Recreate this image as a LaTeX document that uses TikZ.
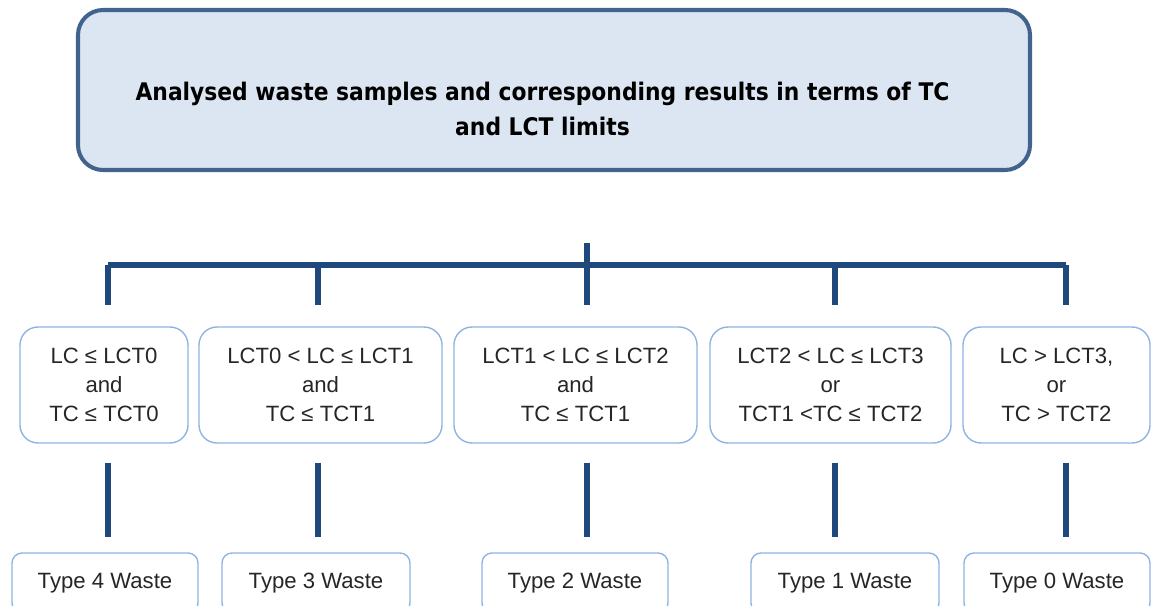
\documentclass[tikz,border=0pt]{standalone}
\usepackage{fontspec}
\setmainfont{Liberation Sans}
\newfontfamily\headfont[FakeStretch=0.9]{DejaVu Sans}
\usetikzlibrary{positioning}

\definecolor{headfill}{HTML}{DCE6F2}
\definecolor{headline}{HTML}{43638F}
\definecolor{treeline}{HTML}{1F497D}
\definecolor{boxline}{HTML}{8EB4E3}

\tikzset{
  headbox/.style={draw=headline, fill=headfill, line width=2.3pt, rounded corners=0.5cm,
    minimum width=19.04cm, minimum height=3.2cm},
  cond/.style={draw=boxline, line width=0.8pt, rounded corners=0.36cm, align=center,
    minimum height=2.32cm, inner sep=0pt, font=\fontsize{12.6}{16.4}\selectfont, text=black!85},
  waste/.style={draw=boxline, line width=0.8pt, rounded corners=0.2cm,
    minimum height=1.2cm, inner sep=0pt, font=\fontsize{12.6}{15}\selectfont, text=black!85},
  tree/.style={draw=treeline, line width=3.4pt}
}

\begin{document}
\begin{tikzpicture}[y=-1cm]
\useasboundingbox (0,0) rectangle (23.02,12.12);

% heading
\node[headbox] (head) at (11.08,1.8) {};
\node[align=center, font=\headfont\bfseries\fontsize{13.8}{19.8}\selectfont] (title) at (10.85,2.18)
  {Analysed waste samples and corresponding results in terms of TC\\and LCT limits};

% conditions
\node[cond, minimum width=3.36cm] (c1) at (2.08,7.7) {LC ≤ LCT0\\and\\TC ≤ TCT0};
\node[cond, minimum width=4.86cm] (c2) at (6.41,7.7) {LCT0 < LC ≤ LCT1\\and\\TC ≤ TCT1};
\node[cond, minimum width=4.86cm] (c3) at (11.51,7.7) {LCT1 < LC ≤ LCT2\\and\\TC ≤ TCT1};
\node[cond, minimum width=4.82cm] (c4) at (16.61,7.7) {LCT2 < LC ≤ LCT3\\or\\TCT1 <TC ≤ TCT2};
\node[cond, minimum width=3.74cm] (c5) at (21.13,7.7) {LC > LCT3,\\or\\TC > TCT2};

% waste types
\node[waste, minimum width=3.72cm] (w1) at (2.1,11.66) {Type 4 Waste};
\node[waste, minimum width=3.76cm] (w2) at (6.32,11.66) {Type 3 Waste};
\node[waste, minimum width=3.72cm] (w3) at (11.5,11.66) {Type 2 Waste};
\node[waste, minimum width=3.76cm] (w4) at (16.9,11.66) {Type 1 Waste};
\node[waste, minimum width=3.72cm] (w5) at (21.14,11.66) {Type 0 Waste};

% branch tree
\coordinate (stem) at (11.74,4.86);
\coordinate (bar) at (11.74,5.3);
\coordinate (d1) at (2.16,6.1);
\coordinate (d2) at (6.36,6.1);
\coordinate (d3) at (11.74,6.1);
\coordinate (d4) at (16.7,6.1);
\coordinate (d5) at (21.32,6.1);

\draw[tree] (stem) -- (bar);
\draw[tree] (d1 |- bar) -- (d5 |- bar);
\foreach \i in {1,...,5}{
  \draw[tree] (d\i |- bar) -- (d\i);
  \draw[tree, shorten <=0.38cm, shorten >=0.3cm] (c\i.south -| d\i) -- (w\i.north -| d\i);
}
\end{tikzpicture}
\end{document}
